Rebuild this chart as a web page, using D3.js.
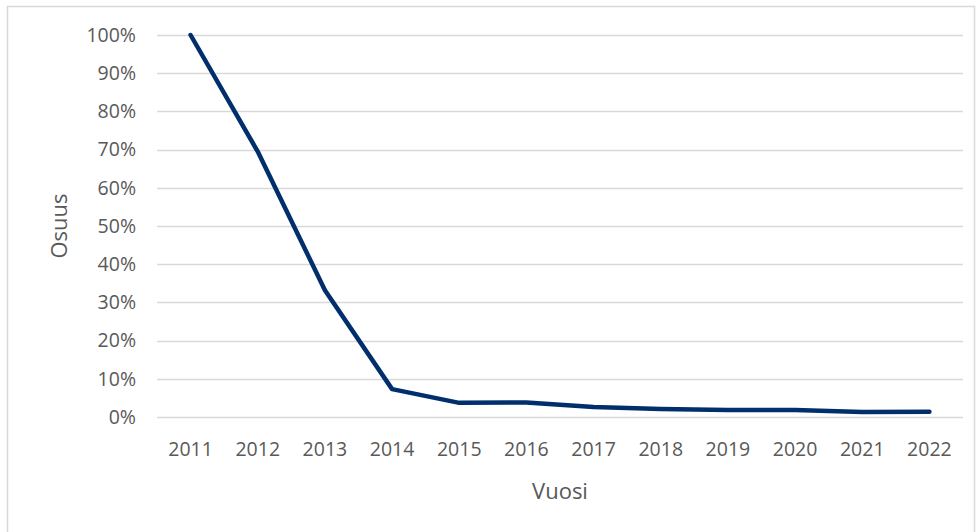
<!DOCTYPE html>
<html>
<head>
<meta charset="utf-8">
<script src="https://cdn.jsdelivr.net/npm/d3@7"></script>
<style>
  html, body { margin: 0; padding: 0; background: #ffffff; }
  svg { display: block; }
  text { font-family: "Open Sans", "Noto Sans", sans-serif; fill: #595959; }
</style>
</head>
<body>
<svg id="chart" width="978" height="532"></svg>
<script>
const years = ["2011","2012","2013","2014","2015","2016","2017","2018","2019","2020","2021","2022"];
const shares = [1.00, 0.695, 0.332, 0.073, 0.037, 0.038, 0.026, 0.021, 0.018, 0.018, 0.013, 0.014];
const yTicks = [0, 0.1, 0.2, 0.3, 0.4, 0.5, 0.6, 0.7, 0.8, 0.9, 1.0];
const xTitle = "Vuosi";
const yTitle = "Osuus";

const svg = d3.select("#chart");
const plot = { left: 157, right: 963, top: 35, bottom: 417 };

// outer frame
svg.append("rect")
  .attr("x", 7.5).attr("y", 6.5)
  .attr("width", 967).attr("height", 540)
  .attr("fill", "#ffffff")
  .attr("stroke", "#d9d9d9").attr("stroke-width", 1.5);

const x = d3.scaleBand().domain(years).range([plot.left, plot.right]);
const y = d3.scaleLinear().domain([0, 1]).range([plot.bottom, plot.top]);

// gridlines
svg.append("g")
  .selectAll("line")
  .data(yTicks)
  .join("line")
  .attr("x1", plot.left).attr("x2", plot.right)
  .attr("y1", d => Math.round(y(d)) + 0.5).attr("y2", d => Math.round(y(d)) + 0.5)
  .attr("stroke", "#d9d9d9").attr("stroke-width", 1.5);

// y axis labels
const yAxis = d3.axisLeft(y).tickValues(yTicks).tickFormat(d3.format(".0%")).tickSize(0).tickPadding(0);
const gy = svg.append("g").attr("transform", `translate(${136},0)`).call(yAxis);
gy.select(".domain").remove();
gy.selectAll("text").style("font-size", "19.5px").attr("fill", "#595959")
  .attr("font-family", "'Open Sans', sans-serif");

// x axis labels
const xAxis = d3.axisBottom(x).tickSize(0).tickPadding(0);
const gx = svg.append("g").attr("transform", `translate(0,${442})`).call(xAxis);
gx.select(".domain").remove();
gx.selectAll("text").style("font-size", "19.5px").attr("fill", "#595959")
  .attr("font-family", "'Open Sans', sans-serif");

// line
const line = d3.line()
  .x((d, i) => x(years[i]) + x.bandwidth() / 2)
  .y(d => y(d));

svg.append("path")
  .datum(shares)
  .attr("d", line)
  .attr("fill", "none")
  .attr("stroke", "#002f6c")
  .attr("stroke-width", 4.5)
  .attr("stroke-linecap", "round")
  .attr("stroke-linejoin", "round");

// axis titles
svg.append("text")
  .attr("x", (plot.left + plot.right) / 2)
  .attr("y", 499)
  .attr("text-anchor", "middle")
  .style("font-size", "22px")
  .text(xTitle);

svg.append("text")
  .attr("transform", `translate(67,${(plot.top + plot.bottom) / 2}) rotate(-90)`)
  .attr("text-anchor", "middle")
  .style("font-size", "22px")
  .text(yTitle);
</script>
</body>
</html>
